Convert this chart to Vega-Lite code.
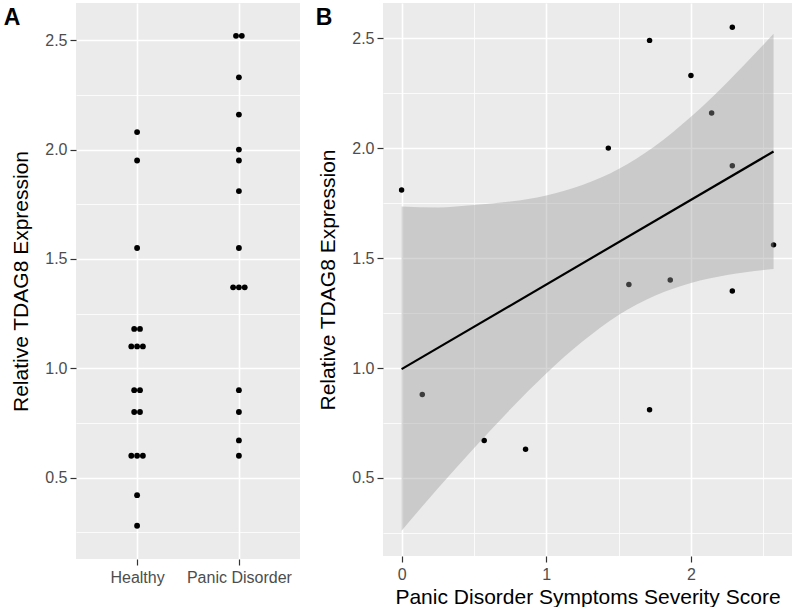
{
  "$schema": "https://vega.github.io/schema/vega-lite/v6.json",
  "background": "white",
  "padding": {"left": 3, "top": 3, "right": 0, "bottom": 0},
  "spacing": 15,
  "datasets": {
    "expr": [
      {"group": "Healthy", "value": 2.08},
      {"group": "Healthy", "value": 1.95},
      {"group": "Healthy", "value": 1.55},
      {"group": "Healthy", "value": 1.18},
      {"group": "Healthy", "value": 1.18},
      {"group": "Healthy", "value": 1.10},
      {"group": "Healthy", "value": 1.10},
      {"group": "Healthy", "value": 1.10},
      {"group": "Healthy", "value": 0.90},
      {"group": "Healthy", "value": 0.90},
      {"group": "Healthy", "value": 0.80},
      {"group": "Healthy", "value": 0.80},
      {"group": "Healthy", "value": 0.60},
      {"group": "Healthy", "value": 0.60},
      {"group": "Healthy", "value": 0.60},
      {"group": "Healthy", "value": 0.42},
      {"group": "Healthy", "value": 0.28},
      {"group": "Panic Disorder", "value": 2.52},
      {"group": "Panic Disorder", "value": 2.52},
      {"group": "Panic Disorder", "value": 2.33},
      {"group": "Panic Disorder", "value": 2.16},
      {"group": "Panic Disorder", "value": 2.00},
      {"group": "Panic Disorder", "value": 1.95},
      {"group": "Panic Disorder", "value": 1.81},
      {"group": "Panic Disorder", "value": 1.55},
      {"group": "Panic Disorder", "value": 1.37},
      {"group": "Panic Disorder", "value": 1.37},
      {"group": "Panic Disorder", "value": 1.37},
      {"group": "Panic Disorder", "value": 0.90},
      {"group": "Panic Disorder", "value": 0.80},
      {"group": "Panic Disorder", "value": 0.67},
      {"group": "Panic Disorder", "value": 0.60}
    ],
    "scores": [
      {"score": 0, "value": 1.81},
      {"score": 0.143, "value": 0.88},
      {"score": 0.571, "value": 0.67},
      {"score": 0.857, "value": 0.63},
      {"score": 1.429, "value": 2.00},
      {"score": 1.571, "value": 1.38},
      {"score": 1.714, "value": 2.49},
      {"score": 1.714, "value": 0.81},
      {"score": 1.857, "value": 1.40},
      {"score": 2.0, "value": 2.33},
      {"score": 2.143, "value": 2.16},
      {"score": 2.286, "value": 2.55},
      {"score": 2.286, "value": 1.92},
      {"score": 2.286, "value": 1.35},
      {"score": 2.571, "value": 1.56}
    ],
    "band": [
      {"score": 0, "lo": 0.26, "hi": 1.735},
      {"score": 0.25, "lo": 0.452, "hi": 1.73},
      {"score": 0.5, "lo": 0.635, "hi": 1.741},
      {"score": 0.75, "lo": 0.811, "hi": 1.757},
      {"score": 1.0, "lo": 0.975, "hi": 1.785},
      {"score": 1.25, "lo": 1.12, "hi": 1.832},
      {"score": 1.5, "lo": 1.241, "hi": 1.905},
      {"score": 1.75, "lo": 1.329, "hi": 2.009},
      {"score": 2.0, "lo": 1.387, "hi": 2.143},
      {"score": 2.25, "lo": 1.423, "hi": 2.299},
      {"score": 2.571, "lo": 1.45, "hi": 2.52}
    ]
  },
  "hconcat": [
    {
      "width": 224,
      "height": 556,
      "title": {"text": "A", "anchor": "start", "frame": "bounds", "fontSize": 23, "fontWeight": "bold", "color": "black", "font": "Liberation Sans", "dx": -7, "dy": 31},
      "data": {"name": "expr"},
      "transform": [
        {"window": [{"op": "row_number", "as": "k"}], "groupby": ["group", "value"]},
        {"joinaggregate": [{"op": "count", "as": "n"}], "groupby": ["group", "value"]},
        {"calculate": "datum.k - (datum.n + 1) / 2", "as": "off"}
      ],
      "mark": {"type": "point", "filled": true, "color": "black", "opacity": 1, "size": 34},
      "encoding": {
        "x": {
          "field": "group", "type": "nominal",
          "scale": {"type": "point", "padding": 0.6},
          "axis": {"title": null, "labelAngle": 0, "grid": true, "gridWidth": 1.6, "labelPadding": 4}
        },
        "xOffset": {"field": "off", "type": "quantitative", "scale": {"domain": [-1, 1], "range": [-5.8, 5.8], "zero": false, "nice": false}},
        "y": {
          "field": "value", "type": "quantitative",
          "scale": {"domain": [0.128, 2.67], "nice": false, "zero": false},
          "axis": {
            "title": "Relative TDAG8 Expression",
            "values": [0.25, 0.5, 0.75, 1, 1.25, 1.5, 1.75, 2, 2.25, 2.5],
            "labelExpr": "(datum.value * 4) % 2 == 0 ? format(datum.value, '.1f') : ''",
            "gridWidth": {"condition": {"test": "(datum.value * 4) % 2 == 1", "value": 0.8}, "value": 1.6},
            "tickOpacity": {"condition": {"test": "(datum.value * 4) % 2 == 1", "value": 0}, "value": 1},
            "titlePadding": 13,
            "labelPadding": 3
          }
        }
      }
    },
    {
      "width": 409,
      "height": 553,
      "title": {"text": "B", "anchor": "start", "frame": "bounds", "fontSize": 23, "fontWeight": "bold", "color": "black", "font": "Liberation Sans", "dx": -2, "dy": 31},
      "layer": [
        {
          "data": {"name": "scores"},
          "mark": {"type": "point", "filled": true, "color": "black", "opacity": 1, "size": 30},
          "encoding": {
            "x": {
              "field": "score", "type": "quantitative",
              "scale": {"domain": [-0.1285, 2.6985], "nice": false, "zero": false},
              "axis": {
                "title": "Panic Disorder Symptoms Severity Score",
                "values": [0, 0.5, 1, 1.5, 2, 2.5],
                "labelExpr": "datum.value % 1 == 0 ? format(datum.value, 'd') : ''",
                "gridWidth": {"condition": {"test": "datum.value % 1 != 0", "value": 0.8}, "value": 1.6},
                "tickOpacity": {"condition": {"test": "datum.value % 1 != 0", "value": 0}, "value": 1},
                "labelPadding": 4,
                "titlePadding": 4,
                "labelFlush": false
              }
            },
            "y": {
              "field": "value", "type": "quantitative",
              "scale": {"domain": [0.145, 2.66], "nice": false, "zero": false},
              "axis": {
                "title": "Relative TDAG8 Expression",
                "values": [0.25, 0.5, 0.75, 1, 1.25, 1.5, 1.75, 2, 2.25, 2.5],
                "labelExpr": "(datum.value * 4) % 2 == 0 ? format(datum.value, '.1f') : ''",
                "gridWidth": {"condition": {"test": "(datum.value * 4) % 2 == 1", "value": 0.8}, "value": 1.6},
                "tickOpacity": {"condition": {"test": "(datum.value * 4) % 2 == 1", "value": 0}, "value": 1},
                "titlePadding": 13,
                "labelPadding": 3
              }
            }
          }
        },
        {
          "data": {"name": "band"},
          "mark": {"type": "area", "color": "#999999", "opacity": 0.4, "interpolate": "monotone"},
          "encoding": {
            "x": {"field": "score", "type": "quantitative"},
            "y": {"field": "lo", "type": "quantitative"},
            "y2": {"field": "hi"}
          }
        },
        {
          "data": {"name": "scores"},
          "transform": [{"regression": "value", "on": "score"}],
          "mark": {"type": "line", "color": "black", "strokeWidth": 2.2},
          "encoding": {
            "x": {"field": "score", "type": "quantitative"},
            "y": {"field": "value", "type": "quantitative"}
          }
        }
      ]
    }
  ],
  "config": {
    "font": "Liberation Sans",
    "view": {"fill": "#EBEBEB", "stroke": null},
    "axis": {
      "domain": false,
      "gridColor": "white",
      "gridOpacity": 1,
      "tickColor": "#333333",
      "tickSize": 6,
      "tickWidth": 1.2,
      "labelColor": "#4D4D4D",
      "labelFontSize": 16,
      "labelFont": "Liberation Sans",
      "labelOverlap": false,
      "titleFont": "Liberation Sans",
      "titleFontSize": 21,
      "titleFontWeight": "normal",
      "titleColor": "black"
    }
  }
}
